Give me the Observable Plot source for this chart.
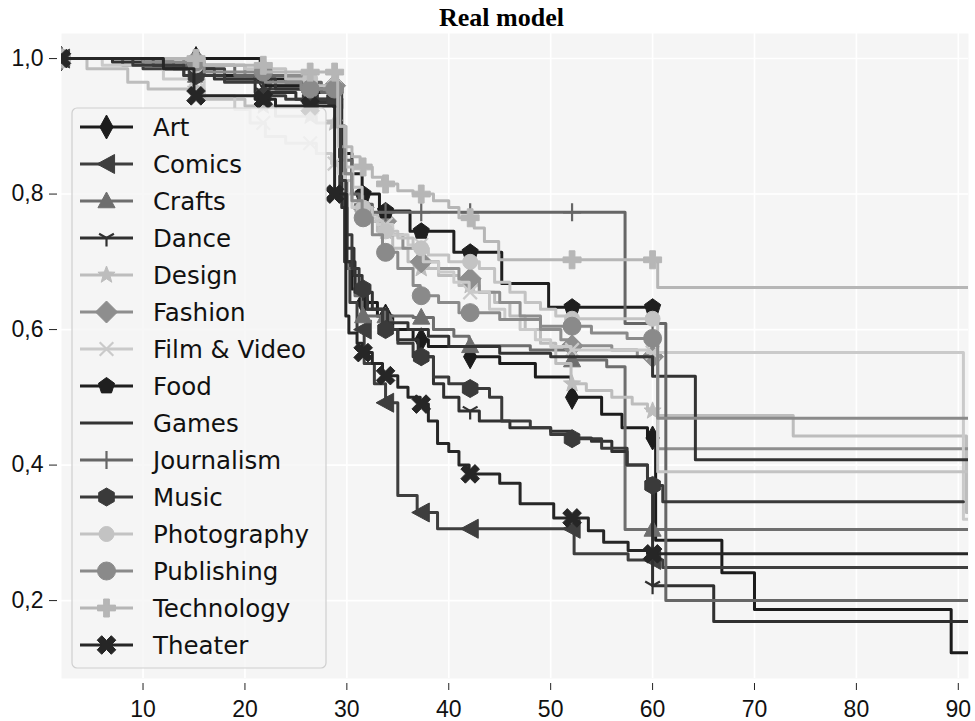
<!DOCTYPE html>
<html><head><meta charset="utf-8">
<script src="https://cdn.jsdelivr.net/npm/d3@7"></script>
<script src="https://cdn.jsdelivr.net/npm/@observablehq/plot@0.6"></script>
<style>
body{margin:0;background:#fff;}
#title{height:33px;width:947px;padding-left:28px;font:bold 26px "Liberation Serif","Times New Roman",serif;text-align:center;line-height:36px;color:#000;}
#chart{width:975px;height:688px;}
</style></head><body>
<div id="title">Real model</div>
<div id="chart"></div>
<script>
const categories = ["Art","Comics","Crafts","Dance","Design","Fashion","Film & Video","Food","Games","Journalism","Music","Photography","Publishing","Technology","Theater"];
const grays = ["#1c1c1c","#3e3e3e","#6e6e6e","#303030","#bdbdbd","#8e8e8e","#cacaca","#1f1f1f","#333333","#666666","#3a3a3a","#c3c3c3","#8a8a8a","#b6b6b6","#262626"];
const xTicks = [10,20,30,40,50,60,70,80,90];
const yTicks = [0.2,0.4,0.6,0.8,1.0];
const markX = [2,15.2,21.8,26.4,28.8,31.6,33.8,37.3,42.1,52.1,60];

const art = [[2,1],[21.5,0.97],[26,0.955],[29.3,0.85],[29.8,0.70],[30.5,0.66],[31.5,0.64],[33,0.62],[34.5,0.60],[36.5,0.585],[38,0.575],[42,0.56],[45,0.55],[48.5,0.53],[52,0.50],[55,0.475],[57,0.455],[59.5,0.44],[60.3,0.289],[66.8,0.241],[70,0.187],[89.3,0.123],[91,0.123]];
const comics = [[2,1],[10,0.985],[18,0.97],[22,0.955],[26,0.94],[29.3,0.80],[29.8,0.70],[30.3,0.64],[31,0.60],[31.7,0.55],[32.7,0.52],[33.8,0.492],[35,0.355],[36.9,0.33],[38.9,0.306],[52.3,0.269],[57.6,0.26],[61,0.249],[91,0.249]];
const crafts = [[2,1],[8,0.99],[14,0.975],[22,0.96],[27,0.95],[29.4,0.82],[30,0.69],[30.8,0.65],[31.5,0.62],[36.5,0.618],[38.5,0.60],[40.5,0.59],[42,0.576],[48,0.57],[52,0.555],[55.5,0.545],[57.3,0.305],[91,0.305]];
const dance = [[2,1],[12,0.985],[15,0.975],[21,0.95],[25,0.94],[29.5,0.78],[30,0.70],[30.8,0.655],[32,0.63],[33.5,0.60],[35,0.585],[37,0.56],[38.5,0.52],[39.5,0.50],[41,0.48],[43,0.465],[46,0.455],[50,0.45],[52,0.44],[54,0.435],[56,0.42],[57.5,0.40],[59.5,0.38],[60,0.222],[66,0.169],[91,0.169]];
const design = [[2,1],[4.5,0.985],[8.5,0.965],[10.5,0.955],[16,0.94],[20,0.93],[23,0.915],[27,0.905],[29.2,0.87],[29.8,0.82],[30.5,0.79],[31.5,0.77],[33,0.745],[34.5,0.72],[36,0.70],[37.2,0.69],[39,0.68],[41,0.665],[43,0.655],[44.5,0.64],[46,0.62],[47.5,0.60],[49,0.58],[50.5,0.55],[52,0.52],[53.5,0.51],[56,0.50],[58,0.49],[59.5,0.48],[60.5,0.473],[70.5,0.473],[73.8,0.443],[90.3,0.443],[90.8,0.33],[91,0.33]];
const fashion = [[2,1],[14,0.99],[20,0.975],[26,0.96],[29.3,0.90],[29.9,0.83],[30.5,0.80],[31.5,0.78],[32.5,0.76],[34,0.74],[35.5,0.72],[37,0.70],[39,0.69],[41,0.675],[43,0.655],[45,0.64],[47,0.62],[49,0.60],[51,0.585],[52,0.576],[56,0.57],[58.5,0.56],[60.5,0.424],[91,0.424]];
const film = [[2,1],[6,0.99],[12,0.97],[16,0.945],[19,0.925],[20.5,0.905],[22,0.885],[24,0.875],[27,0.86],[28.5,0.845],[29.2,0.83],[29.8,0.80],[30.5,0.78],[31.5,0.765],[33,0.755],[34.5,0.74],[36,0.725],[37.5,0.70],[39,0.685],[40.5,0.67],[42,0.655],[44,0.63],[45.5,0.615],[47,0.60],[48.5,0.585],[50,0.575],[52,0.57],[59.5,0.566],[90.5,0.32],[91,0.32]];
const food = [[2,1],[11,0.99],[16,0.975],[22,0.96],[26,0.95],[29.3,0.90],[29.8,0.86],[30.5,0.83],[31.5,0.80],[33.2,0.775],[36.2,0.745],[40.5,0.714],[45.2,0.668],[49.8,0.633],[60,0.633]];
const games = [[2,1],[7,0.995],[13,0.985],[17,0.97],[23,0.955],[27,0.935],[29.4,0.80],[30,0.72],[30.7,0.68],[31.5,0.655],[32.5,0.63],[34,0.61],[36,0.60],[38,0.59],[40,0.575],[45,0.565],[50,0.56],[60,0.531],[64.2,0.408],[91,0.408]];
const journalism = [[2,1],[12,0.99],[19,0.975],[24,0.965],[27.5,0.95],[29.2,0.90],[29.8,0.85],[30.5,0.80],[31.2,0.785],[32.5,0.773],[57.3,0.609],[61.3,0.200],[91,0.200]];
const music = [[2,1],[9,0.99],[14,0.975],[18,0.965],[21.8,0.945],[24,0.94],[29.4,0.82],[29.9,0.74],[30.5,0.69],[31.2,0.66],[32,0.63],[33.5,0.60],[35,0.58],[36.5,0.56],[38.5,0.53],[40,0.52],[41.8,0.513],[44,0.50],[45.2,0.465],[48,0.455],[50,0.445],[52,0.439],[55,0.425],[57.5,0.40],[59.5,0.37],[61,0.346],[90.5,0.346]];
const photography = [[2,1],[15,0.99],[20,0.985],[24,0.97],[27,0.96],[29.3,0.90],[29.9,0.84],[30.6,0.81],[31.5,0.78],[32.5,0.76],[33.5,0.745],[35,0.735],[36.5,0.72],[38,0.71],[40,0.70],[43,0.69],[44.5,0.67],[46,0.655],[47.5,0.64],[49,0.63],[50.5,0.62],[52,0.616],[60.5,0.39],[91,0.39]];
const publishing = [[2,1],[10,0.995],[16,0.98],[22,0.965],[25.5,0.955],[29.2,0.90],[29.8,0.83],[30.5,0.79],[31.5,0.765],[32.5,0.74],[33.5,0.714],[35,0.69],[36.5,0.665],[37.2,0.65],[39,0.64],[41,0.625],[45,0.615],[49,0.605],[54,0.595],[57.5,0.587],[60.5,0.469],[91,0.469]];
const technology = [[2,1],[16,0.99],[22,0.98],[29.1,0.90],[29.8,0.87],[30.5,0.855],[31.3,0.84],[32.5,0.825],[33.5,0.815],[35,0.805],[36.5,0.80],[38.5,0.79],[40,0.78],[41,0.765],[42.5,0.75],[43.5,0.73],[44.9,0.703],[60.5,0.662],[91,0.662]];
const theater = [[2,1],[12,0.985],[15,0.945],[21,0.94],[23,0.93],[28.8,0.80],[29.9,0.62],[30.2,0.595],[31,0.58],[31.5,0.566],[32.5,0.55],[33.5,0.532],[35,0.515],[36,0.50],[37.2,0.49],[38,0.465],[38.9,0.432],[40,0.42],[41,0.40],[42,0.387],[45,0.373],[47,0.343],[50.3,0.322],[53.7,0.303],[55.2,0.286],[57.6,0.274],[59.5,0.269],[91,0.269]];

const seriesList = [art,comics,crafts,dance,design,fashion,film,food,games,journalism,music,photography,publishing,technology,theater];

// marker shapes
const R = (size) => Math.sqrt(size / Math.PI);
const poly = (pts) => ({draw(ctx, size){ const r = R(size); pts.forEach(([a,b],i) => i ? ctx.lineTo(a*r,b*r) : ctx.moveTo(a*r,b*r)); ctx.closePath(); }});
const segs = (list) => ({draw(ctx, size){ const r = R(size); for (const [a,b,c,d] of list){ ctx.moveTo(a*r,b*r); ctx.lineTo(c*r,d*r); } }});
const ring = (n, rot, inner) => { const p = []; const m = inner ? 2*n : n; for (let k=0;k<m;k++){ const ang = rot + k*2*Math.PI/m; const rad = inner && k%2 ? inner : 1; p.push([rad*Math.cos(ang), rad*Math.sin(ang)]); } return p; };
const w = 0.32;
const plusPts = [[-w,-1],[w,-1],[w,-w],[1,-w],[1,w],[w,w],[w,1],[-w,1],[-w,w],[-1,w],[-1,-w],[-w,-w]];
const c45 = Math.SQRT1_2;
const xPts = plusPts.map(([a,b]) => [(a-b)*c45*1.05,(a+b)*c45*1.05]);
const symbols = [
  poly([[0,-1],[0.55,0],[0,1],[-0.55,0]]),
  poly([[-1,0],[0.85,-1],[0.85,1]]),
  poly([[0,-1],[0.95,0.75],[-0.95,0.75]]),
  segs([[0,0,0,1],[0,0,-0.87,-0.5],[0,0,0.87,-0.5]]),
  poly(ring(5,-Math.PI/2,0.42)),
  poly([[0,-1],[1,0],[0,1],[-1,0]]),
  segs([[-0.8,-0.8,0.8,0.8],[-0.8,0.8,0.8,-0.8]]),
  poly(ring(5,-Math.PI/2)),
  null,
  segs([[-1,0,1,0],[0,-1,0,1]]),
  poly(ring(6,-Math.PI/2)),
  d3.symbolCircle,
  d3.symbolCircle,
  poly(plusPts),
  poly(xPts)
];
const radii = [12,9.5,9,8.5,9,11,8.5,8.5,0,9,9,7.5,9,9,9.5];
const strokeOnly = [false,false,false,true,false,false,true,false,false,true,false,false,false,false,false];

const valueAt = (pts, x) => { let y = null; for (const [px,py] of pts){ if (px <= x) y = py; else break; } return y; };

const marks = [
  Plot.frame({fill:"#f5f5f5", stroke:null}),
  Plot.gridX({ticks:xTicks, stroke:"#ffffff", strokeOpacity:1, strokeWidth:1.6}),
  Plot.gridY({ticks:yTicks, stroke:"#ffffff", strokeOpacity:1, strokeWidth:1.6}),
  Plot.axisX({ticks:xTicks, tickSize:7, dy:5, tickPadding:10, tickFormat:d=>String(d), stroke:"#222", label:null}),
  Plot.axisY({ticks:yTicks, tickSize:8, dx:-4, tickPadding:6, tickFormat:d=>d.toFixed(1).replace(".",","), stroke:"#222", label:null})
];
categories.forEach((c,i) => {
  const pts = seriesList[i];
  const rows = pts.map(([x,y]) => ({cat:c, x, y}));
  marks.push(Plot.line(rows, {x:"x", y:"y", curve:"step-after", stroke:grays[i], strokeWidth:3, clip:true}));
  if (symbols[i]) {
    const last = pts[pts.length-1][0];
    const mk = markX.filter(x => x <= last).map(x => ({cat:c, x, y:valueAt(pts,x)}));
    marks.push(Plot.dot(mk, {x:"x", y:"y", symbol:symbols[i], r:radii[i],
      fill: strokeOnly[i] ? "none" : grays[i], stroke: grays[i], strokeWidth: strokeOnly[i] ? 2.2 : 1, clip:true}));
  }
});

const chart = Plot.plot({
  width:975, height:688,
  marginLeft:61, marginRight:7, marginTop:0, marginBottom:43,
  x:{domain:[2,91], label:null},
  y:{domain:[0.085,1.037], label:null},
  style:{fontFamily:"'Liberation Sans', Arial, sans-serif", fontSize:"23px", color:"#111", background:"#fff"},
  marks
});
document.getElementById("chart").appendChild(chart);

// legend
const svg = d3.select(chart);
const g = svg.append("g").attr("text-anchor","start");
g.append("rect").attr("x",72).attr("y",75).attr("width",254).attr("height",560).attr("rx",5)
  .attr("fill","#f5f5f5").attr("fill-opacity",0.82).attr("stroke","#cfcfcf").attr("stroke-width",1.2);
categories.forEach((c,i) => {
  const y = 94 + 37*i;
  g.append("line").attr("x1",80).attr("x2",133).attr("y1",y).attr("y2",y).attr("stroke",grays[i]).attr("stroke-width",3);
  if (symbols[i]) {
    g.append("path").attr("d", d3.symbol(symbols[i], radii[i]*radii[i]*Math.PI)())
      .attr("transform",`translate(106.5,${y})`)
      .attr("fill", strokeOnly[i] ? "none" : grays[i]).attr("stroke", grays[i]).attr("stroke-width", strokeOnly[i] ? 2.2 : 1);
  }
  g.append("text").attr("x",153).attr("y",y).attr("dy","0.36em").attr("fill","#111").attr("text-anchor","start")
    .style("font-family","'DejaVu Sans', sans-serif").style("font-size","24.5px").text(c);
});
</script>
</body></html>
